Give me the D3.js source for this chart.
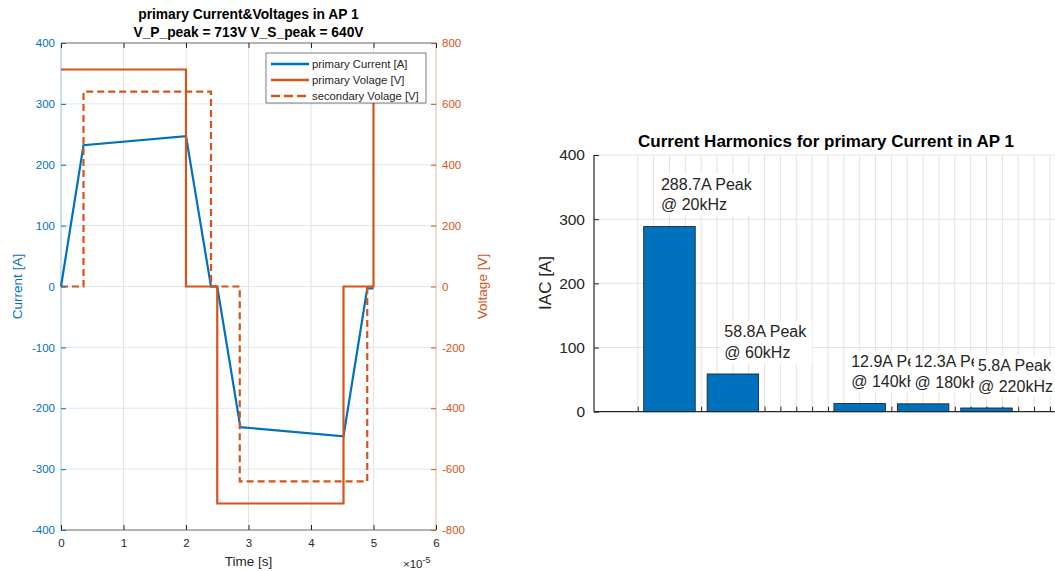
<!DOCTYPE html>
<html>
<head>
<meta charset="utf-8">
<script src="https://cdn.jsdelivr.net/npm/d3@7"></script>
<style>
  body { margin: 0; background: #fff; }
  svg { display: block; font-family: "Liberation Sans", Arial, Helvetica, sans-serif; }
  .grid line { stroke: #e3e3e3; stroke-width: 1; }
  .domain { display: none; }
</style>
</head>
<body>
<svg id="chart" width="1055" height="571"></svg>
<script>
// ---- left chart data (time in units of 1e-5 s) ----
const timeCurrent = [0, 0.36, 2.0, 2.4, 2.5, 2.87, 4.52, 4.9, 5.0];
const currentA    = [0, 232, 247, 0, 0, -231, -246, -3, -3];
const timePrimV   = [0, 2.0, 2.0, 2.5, 2.5, 4.52, 4.52, 5.0, 5.0];
const primV       = [713, 713, 0, 0, -713, -713, 0, 0, 713];
const timeSecV    = [0, 0.36, 0.36, 2.4, 2.4, 2.86, 2.86, 4.9, 4.9, 5.0];
const secV        = [0, 0, 640, 640, 0, 0, -640, -640, 0, 0];
const xTicksL = [0, 1, 2, 3, 4, 5, 6];
const yTicksL = [-400, -300, -200, -100, 0, 100, 200, 300, 400];
const yTicksR = [-800, -600, -400, -200, 0, 200, 400, 600, 800];
const legendNames = ["primary Current [A]", "primary Volage [V]", "secondary Volage [V]"];

// ---- right chart data ----
const harmFreq = [20, 60, 140, 180, 220];      // kHz
const harmPeak = [288.7, 58.8, 12.9, 12.3, 5.8]; // A
const yTicksH = [0, 100, 200, 300, 400];

const blue = "#0072BD", orange = "#D95319", dark = "#262626";
const plain = d => String(d);   // hyphen minus like matlab
const svg = d3.select("#chart");

// ================= left chart =================
const L = { left: 61, right: 436, top: 43, bottom: 530 };
const x = d3.scaleLinear().domain([0, 6]).range([L.left, L.right]);
const y = d3.scaleLinear().domain([-400, 400]).range([L.bottom, L.top]);
const y2 = d3.scaleLinear().domain([-800, 800]).range([L.bottom, L.top]);

const left = svg.append("g");

// grid
left.append("g").attr("class", "grid")
  .selectAll("line").data(xTicksL.slice(1, -1)).join("line")
  .attr("x1", d => x(d)).attr("x2", d => x(d))
  .attr("y1", L.top).attr("y2", L.bottom);
left.append("g").attr("class", "grid")
  .selectAll("line").data(yTicksL.slice(1, -1)).join("line")
  .attr("x1", L.left).attr("x2", L.right)
  .attr("y1", d => y(d)).attr("y2", d => y(d))
  .style("stroke", "#dde9f4");

// lines
const zip = (a, b) => a.map((v, i) => [v, b[i]]);
left.append("path")
  .datum(zip(timeCurrent, currentA))
  .attr("fill", "none").attr("stroke", blue).attr("stroke-width", 2.2)
  .attr("d", d3.line().x(d => x(d[0])).y(d => y(d[1])));
left.append("path")
  .datum(zip(timePrimV, primV))
  .attr("fill", "none").attr("stroke", orange).attr("stroke-width", 2.2)
  .attr("d", d3.line().x(d => x(d[0])).y(d => y2(d[1])));
left.append("path")
  .datum(zip(timeSecV, secV))
  .attr("fill", "none").attr("stroke", orange).attr("stroke-width", 2.2)
  .attr("stroke-dasharray", "7,4")
  .attr("d", d3.line().x(d => x(d[0])).y(d => y2(d[1])));

// box lines
left.append("line").attr("x1", L.left).attr("x2", L.right).attr("y1", L.top).attr("y2", L.top)
  .attr("stroke", dark).attr("stroke-width", 0.7);
left.append("line").attr("x1", L.left).attr("x2", L.right).attr("y1", L.bottom).attr("y2", L.bottom)
  .attr("stroke", dark).attr("stroke-width", 0.7);
left.append("line").attr("x1", L.left).attr("x2", L.left).attr("y1", L.top).attr("y2", L.bottom)
  .attr("stroke", blue).attr("stroke-width", 0.8).attr("stroke-opacity", 0.55);
left.append("line").attr("x1", L.right).attr("x2", L.right).attr("y1", L.top).attr("y2", L.bottom)
  .attr("stroke", orange).attr("stroke-width", 0.8).attr("stroke-opacity", 0.55);

// axes
const xAxis = left.append("g").attr("transform", "translate(0," + L.bottom + ")")
  .call(d3.axisBottom(x).tickValues(xTicksL).tickSize(-5).tickPadding(9).tickFormat(plain));
xAxis.selectAll("text").attr("fill", dark).style("font-size", "11.5px");
xAxis.selectAll("line").attr("stroke", dark);
left.append("g").attr("transform", "translate(0," + L.top + ")")
  .call(d3.axisTop(x).tickValues(xTicksL).tickSize(-5).tickFormat(""))
  .selectAll("line").attr("stroke", dark);

const yAxis = left.append("g").attr("transform", "translate(" + L.left + ",0)")
  .call(d3.axisLeft(y).tickValues(yTicksL).tickSize(-5).tickPadding(6).tickFormat(plain));
yAxis.selectAll("text").attr("fill", blue).style("font-size", "11.5px");
yAxis.selectAll("line").attr("stroke", blue);

const yAxis2 = left.append("g").attr("transform", "translate(" + L.right + ",0)")
  .call(d3.axisRight(y2).tickValues(yTicksR).tickSize(-5).tickPadding(6).tickFormat(plain));
yAxis2.selectAll("text").attr("fill", orange).style("font-size", "11.5px");
yAxis2.selectAll("line").attr("stroke", orange);

// labels
left.append("text").attr("x", (L.left + L.right) / 2).attr("y", 19)
  .attr("text-anchor", "middle").attr("font-weight", "bold").attr("font-size", "13.8px").attr("fill", "#000")
  .text("primary Current&Voltages in AP 1");
left.append("text").attr("x", (L.left + L.right) / 2).attr("y", 37)
  .attr("text-anchor", "middle").attr("font-weight", "bold").attr("font-size", "13.8px").attr("fill", "#000")
  .text("V_P_peak = 713V V_S_peak = 640V");
left.append("text").attr("x", (L.left + L.right) / 2).attr("y", 566)
  .attr("text-anchor", "middle").attr("font-size", "13.5px").attr("fill", dark)
  .text("Time [s]");
const ex = left.append("text").attr("x", 403).attr("y", 568)
  .attr("font-size", "11.5px").attr("fill", dark);
ex.append("tspan").text("×10");
ex.append("tspan").attr("dy", -5).attr("font-size", "9px").text("-5");
left.append("text")
  .attr("transform", "translate(22," + ((L.top + L.bottom) / 2) + ") rotate(-90)")
  .attr("text-anchor", "middle").attr("font-size", "13.5px").attr("fill", blue)
  .text("Current [A]");
left.append("text")
  .attr("transform", "translate(487," + ((L.top + L.bottom) / 2) + ") rotate(-90)")
  .attr("text-anchor", "middle").attr("font-size", "13.5px").attr("fill", orange)
  .text("Voltage [V]");

// legend
const lg = left.append("g").attr("transform", "translate(266,53)");
lg.append("rect").attr("width", 160).attr("height", 50)
  .attr("fill", "#fff").attr("stroke", dark).attr("stroke-width", 0.6);
const legendStyles = [
  { color: blue, dash: null },
  { color: orange, dash: null },
  { color: orange, dash: "9,4" }
];
legendNames.forEach((name, i) => {
  const yy = 11 + i * 16;
  lg.append("line").attr("x1", 5).attr("x2", 43).attr("y1", yy).attr("y2", yy)
    .attr("stroke", legendStyles[i].color).attr("stroke-width", 2.4)
    .attr("stroke-dasharray", legendStyles[i].dash);
  lg.append("text").attr("x", 46).attr("y", yy + 4)
    .attr("font-size", "11.3px").attr("fill", dark).text(name);
});

// ================= right chart =================
const R = { left: 594, right: 1081, top: 155, bottom: 411.7 };
const xh = d3.scaleLinear().domain([-27.6, 279.6]).range([R.left, R.right]);
const yh = d3.scaleLinear().domain([0, 400]).range([R.bottom, R.top]);
const right = svg.append("g");
const xTicksH = d3.range(0, 280, 10);
const barHalf = 16.25;

right.append("g").attr("class", "grid")
  .selectAll("line").data(xTicksH).join("line")
  .attr("x1", d => xh(d)).attr("x2", d => xh(d))
  .attr("y1", R.top).attr("y2", R.bottom);
right.append("g").attr("class", "grid")
  .selectAll("line").data(yTicksH.slice(1)).join("line")
  .attr("x1", R.left).attr("x2", R.right)
  .attr("y1", d => yh(d)).attr("y2", d => yh(d));

// axis ticks
right.append("g").attr("transform", "translate(0," + R.bottom + ")")
  .call(d3.axisBottom(xh).tickValues(xTicksH).tickSize(-5).tickFormat(""))
  .selectAll("line").attr("stroke", dark);
const yhAxis = right.append("g").attr("transform", "translate(" + R.left + ",0)")
  .call(d3.axisLeft(yh).tickValues(yTicksH).tickSize(-5).tickPadding(9));
yhAxis.selectAll("text").attr("fill", dark).style("font-size", "15.5px");
yhAxis.selectAll("line").attr("stroke", dark);

// bars
right.append("g").selectAll("rect").data(harmFreq).join("rect")
  .attr("x", d => xh(d - barHalf))
  .attr("width", d => xh(d + barHalf) - xh(d - barHalf))
  .attr("y", (d, i) => yh(harmPeak[i]))
  .attr("height", (d, i) => yh(0) - yh(harmPeak[i]))
  .attr("fill", blue).attr("stroke", "#1a1a1a").attr("stroke-width", 0.8);

// axis lines
right.append("line").attr("x1", R.left).attr("x2", R.right).attr("y1", R.bottom).attr("y2", R.bottom)
  .attr("stroke", dark).attr("stroke-width", 1.2);
right.append("line").attr("x1", R.left).attr("x2", R.left).attr("y1", R.top).attr("y2", R.bottom)
  .attr("stroke", dark).attr("stroke-width", 1.2);

// annotations: a white box covers the tail of the previous one when they
// sit at the same height, so clip that label where the next box begins
const defs = svg.append("defs");
const boxLeft = harmFreq.map(f => xh(f) - 8.5 - 4);
const secondBase = harmPeak.map(v => yh(v) - 16);
harmFreq.forEach((f, i) => {
  const tx = xh(f) - 8.5;
  const base2 = secondBase[i];
  const base1 = base2 - 20.5;
  const overlapsNext = i < harmFreq.length - 1 && Math.abs(secondBase[i + 1] - base2) < 40;
  const limit = overlapsNext ? boxLeft[i + 1] : 1100;
  defs.append("clipPath").attr("id", "ann" + i)
    .append("rect").attr("x", boxLeft[i]).attr("y", base1 - 20)
    .attr("width", limit - boxLeft[i]).attr("height", 50);
  const g = right.append("g").attr("clip-path", "url(#ann" + i + ")");
  const rect = g.append("rect").attr("fill", "#fff");
  const t = g.append("text").attr("font-size", "16px").attr("fill", dark);
  t.append("tspan").attr("x", tx).attr("y", base1).text(harmPeak[i] + "A Peak");
  t.append("tspan").attr("x", tx).attr("y", base2).text("@ " + f + "kHz");
  const bb = t.node().getBBox();
  rect.attr("x", tx - 4).attr("y", base1 - 16)
    .attr("width", bb.width + 9).attr("height", base2 - base1 + 21);
});

// titles
right.append("text").attr("x", 826).attr("y", 147)
  .attr("text-anchor", "middle").attr("font-weight", "bold").attr("font-size", "17px").attr("fill", "#000")
  .text("Current Harmonics for primary Current in AP 1");
right.append("text")
  .attr("transform", "translate(551,283) rotate(-90)")
  .attr("text-anchor", "middle").attr("font-size", "17px").attr("fill", dark)
  .text("IAC [A]");
</script>
</body>
</html>
